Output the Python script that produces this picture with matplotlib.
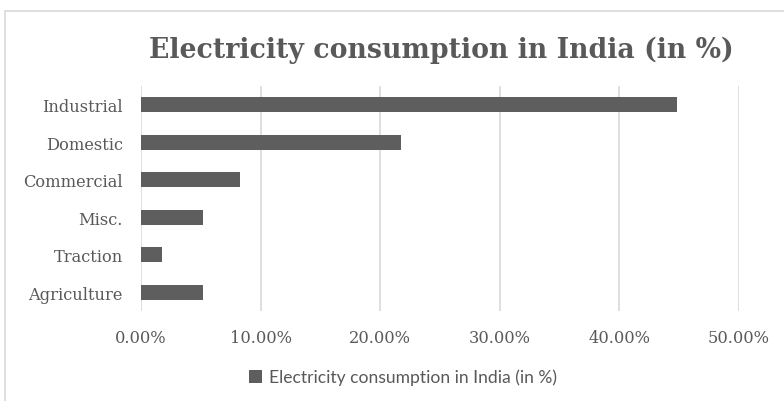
import matplotlib.pyplot as plt
from matplotlib.patches import Rectangle
from matplotlib.ticker import FuncFormatter

categories = ['Agriculture', 'Traction', 'Misc.', 'Commercial', 'Domestic', 'Industrial']
shares = [5.2, 1.75, 5.2, 8.3, 21.7, 44.8]
xticks = [0, 10, 20, 30, 40, 50]
series_name = 'Electricity consumption in India (in %)'

grey = '#595959'
bar_color = '#5e5e5e'

fig = plt.figure(figsize=(7.84, 4.02), dpi=100)
ax = fig.add_axes([141 / 784, 1 - 312 / 402, (739 - 141) / 784, (312 - 87) / 402])

# outer chart frame (right/bottom edges run off the image)
fig.patches.append(Rectangle((5 / 784, -0.1), 1.1, 1 - 12 / 402 + 0.1,
                             transform=fig.transFigure, fill=False,
                             edgecolor='#d9d9d9', linewidth=1.2))

bars = ax.barh(categories, shares, height=0.4, color=bar_color, label=series_name, zorder=3)

ax.set_xlim(0, 50)
ax.set_ylim(-0.5, len(categories) - 0.5)
ax.set_xticks(xticks)
ax.xaxis.set_major_formatter(FuncFormatter(lambda v, p: f'{v:.2f}%'))
ax.grid(axis='x', color='#d9d9d9', linewidth=1.2, zorder=0)
for s in ax.spines.values():
    s.set_visible(False)
ax.tick_params(length=0, colors=grey)
ax.tick_params(axis='x', pad=13)
ax.tick_params(axis='y', pad=13)
for lab in ax.get_xticklabels() + ax.get_yticklabels():
    lab.set_family('DejaVu Serif')
    lab.set_fontsize(11.7)

fig.text(441 / 784, 1 - 50 / 402, 'Electricity consumption in India (in %)',
         ha='center', va='center', fontsize=19.3, fontweight='bold',
         family='DejaVu Serif', color=grey)

leg = fig.legend(handles=[bars], labels=[series_name], loc='center',
                 bbox_to_anchor=(403 / 784, 1 - 378 / 402), frameon=False,
                 handlelength=0.7, handleheight=0.8, handletextpad=0.4,
                 prop={'family': 'Lato', 'size': 12.6})
for t in leg.get_texts():
    t.set_color(grey)

fig.savefig('out.png', dpi=100)
